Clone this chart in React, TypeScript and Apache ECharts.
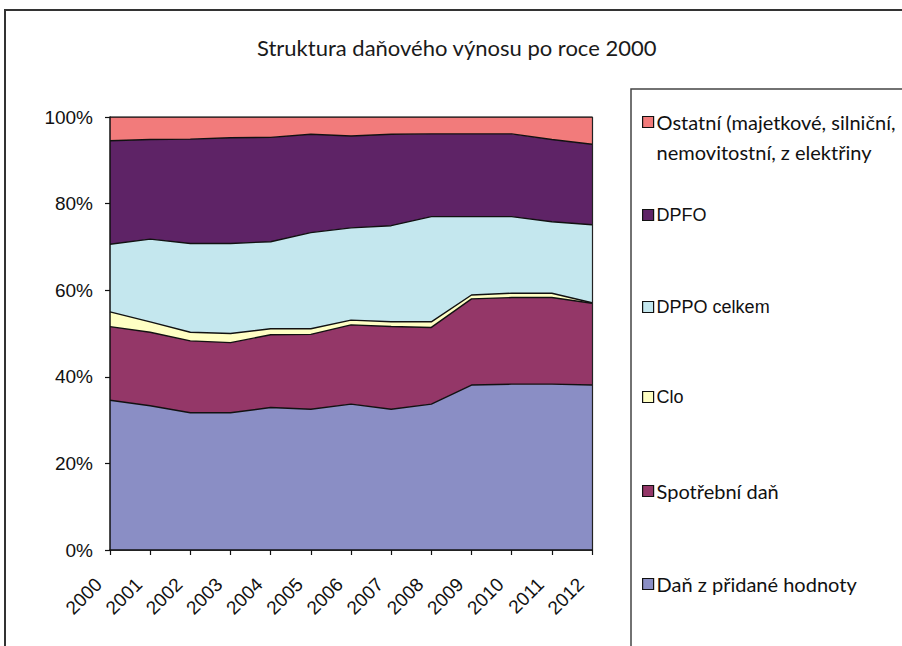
import React, { useEffect, useRef } from "react";
import * as echarts from "echarts";

const years = ["2000","2001","2002","2003","2004","2005","2006","2007","2008","2009","2010","2011","2012"];
const dph = [34.6, 33.3, 31.7, 31.7, 32.9, 32.5, 33.7, 32.5, 33.7, 38.1, 38.3, 38.3, 38.1];
const spotrebni = [17.0, 17.0, 16.6, 16.2, 16.8, 17.3, 18.3, 19.1, 17.7, 19.9, 20.0, 20.0, 18.9];
const clo = [3.4, 2.4, 2.0, 2.1, 1.4, 1.3, 1.1, 1.1, 1.3, 0.9, 1.0, 1.0, 0.1];
const dppo = [15.6, 19.1, 20.5, 20.8, 20.1, 22.2, 21.3, 22.2, 24.3, 18.1, 17.7, 16.5, 18.0];
const dpfo = [23.9, 23.0, 24.1, 24.4, 24.1, 22.7, 21.2, 21.1, 19.1, 19.1, 19.1, 19.0, 18.6];
const ostatni = [5.5, 5.2, 5.1, 4.8, 4.7, 4.0, 4.4, 4.0, 3.9, 3.9, 3.9, 5.2, 6.3];
const yTicks = [0, 20, 40, 60, 80, 100];

const names = {
  ostatni: "Ostatní (majetkové, silniční,\nnemovitostní, z elektřiny",
  dpfo: "DPFO",
  dppo: "DPPO celkem",
  clo: "Clo",
  spotrebni: "Spotřební daň",
  dph: "Daň z přidané hodnoty",
};

const colors = {
  dph: "#8A8EC5",
  spotrebni: "#943768",
  clo: "#FFFFC4",
  dppo: "#C4E7EE",
  dpfo: "#5E2366",
  ostatni: "#F27B7B",
};

const HUMAN = "Lato, 'Open Sans', sans-serif";
const ARIAL = "'Liberation Sans', Arial, sans-serif";

export default function App() {
  const ref = useRef<HTMLDivElement>(null);
  useEffect(() => {
    if (!ref.current) return;
    const chart = echarts.init(ref.current, undefined, { renderer: "svg" });
    const mkSeries = (key: keyof typeof names, data: number[]) => ({
      name: names[key],
      type: "line",
      stack: "total",
      data,
      showSymbol: false,
      symbol: "none",
      lineStyle: { color: "#111", width: 1.4 },
      areaStyle: { color: colors[key], opacity: 1 },
      itemStyle: { color: colors[key], borderColor: "#111", borderWidth: 1 },
      emphasis: { disabled: true },
    });
    const legendItem = (key: keyof typeof names, top: number, font: string, size: number, lh: number) => ({
      orient: "vertical",
      left: 642,
      top,
      padding: 0,
      data: [names[key]],
      icon: "rect",
      itemWidth: 11,
      itemHeight: 11,
      itemGap: 0,
      selectedMode: false,
      formatter: key === "ostatni" ? (n: string) => "\n" + n : undefined,
      itemStyle: { borderColor: "#111", borderWidth: 1.2 },
      textStyle: {
        fontFamily: font,
        fontSize: size,
        color: "#111",
        lineHeight: lh,
        padding: [0, 0, 0, -2],
      },
    });
    chart.setOption({
      animation: false,
      backgroundColor: "#fff",
      title: {
        text: "Struktura daňového výnosu po roce 2000",
        left: 257,
        top: 36,
        padding: 0,
        textStyle: { fontFamily: HUMAN, fontSize: 22, fontWeight: "normal", color: "#1a1a1a" },
      },
      legend: [
        legendItem("ostatni", 77, HUMAN, 20, 30),
        legendItem("dpfo", 205, ARIAL, 18, 20),
        legendItem("dppo", 297, ARIAL, 18, 20),
        legendItem("clo", 387, ARIAL, 18, 20),
        legendItem("spotrebni", 481, HUMAN, 20, 20),
        legendItem("dph", 574, HUMAN, 20, 20),
      ],
      grid: { left: 110, right: 310, top: 117, bottom: 96, containLabel: false },
      xAxis: [
        {
          type: "category",
          data: years,
          boundaryGap: false,
          z: 10,
          axisLine: { show: true, lineStyle: { color: "#111", width: 1.5 } },
          axisTick: { show: true, length: 5, lineStyle: { color: "#111", width: 1.2 } },
          axisLabel: {
            rotate: 45,
            margin: 20,
            padding: [0, 16, 0, 0],
            interval: 0,
            color: "#111",
            fontFamily: ARIAL,
            fontSize: 19,
          },
          splitLine: { show: false },
        },
        {
          type: "category",
          data: years,
          boundaryGap: false,
          position: "top",
          z: 10,
          axisLine: { show: true, lineStyle: { color: "#222", width: 1.2 } },
          axisTick: { show: false },
          axisLabel: { show: false },
        },
      ],
      yAxis: [
        {
          type: "value",
          min: 0,
          max: 100,
          interval: 20,
          z: 10,
          axisLine: { show: true, lineStyle: { color: "#111", width: 1.5 } },
          axisTick: { show: true, length: 5, lineStyle: { color: "#111", width: 1.2 } },
          axisLabel: {
            formatter: (v: number) => (yTicks.includes(v) ? v + "%" : ""),
            color: "#111",
            fontFamily: ARIAL,
            fontSize: 19,
            margin: 17,
          },
          splitLine: { show: false },
        },
        {
          type: "value",
          min: 0,
          max: 100,
          interval: 20,
          position: "right",
          z: 10,
          axisLine: { show: true, lineStyle: { color: "#222", width: 1.2 } },
          axisTick: { show: false },
          axisLabel: { show: false },
          splitLine: { show: false },
        },
      ],
      graphic: [
        {
          type: "rect",
          shape: { x: 5, y: 10, width: 1000, height: 1000 },
          style: { fill: "none", stroke: "#333", lineWidth: 2 },
          silent: true,
        },
        {
          type: "rect",
          shape: { x: 631, y: 89, width: 400, height: 700 },
          style: { fill: "none", stroke: "#444", lineWidth: 1.5 },
          silent: true,
        },
      ],
      series: [
        mkSeries("dph", dph),
        mkSeries("spotrebni", spotrebni),
        mkSeries("clo", clo),
        mkSeries("dppo", dppo),
        mkSeries("dpfo", dpfo),
        mkSeries("ostatni", ostatni),
      ],
    });
    return () => chart.dispose();
  }, []);
  return (
    <div
      ref={ref}
      style={{ width: 902, height: 646, position: "absolute", left: 0, top: 0 }}
    />
  );
}
